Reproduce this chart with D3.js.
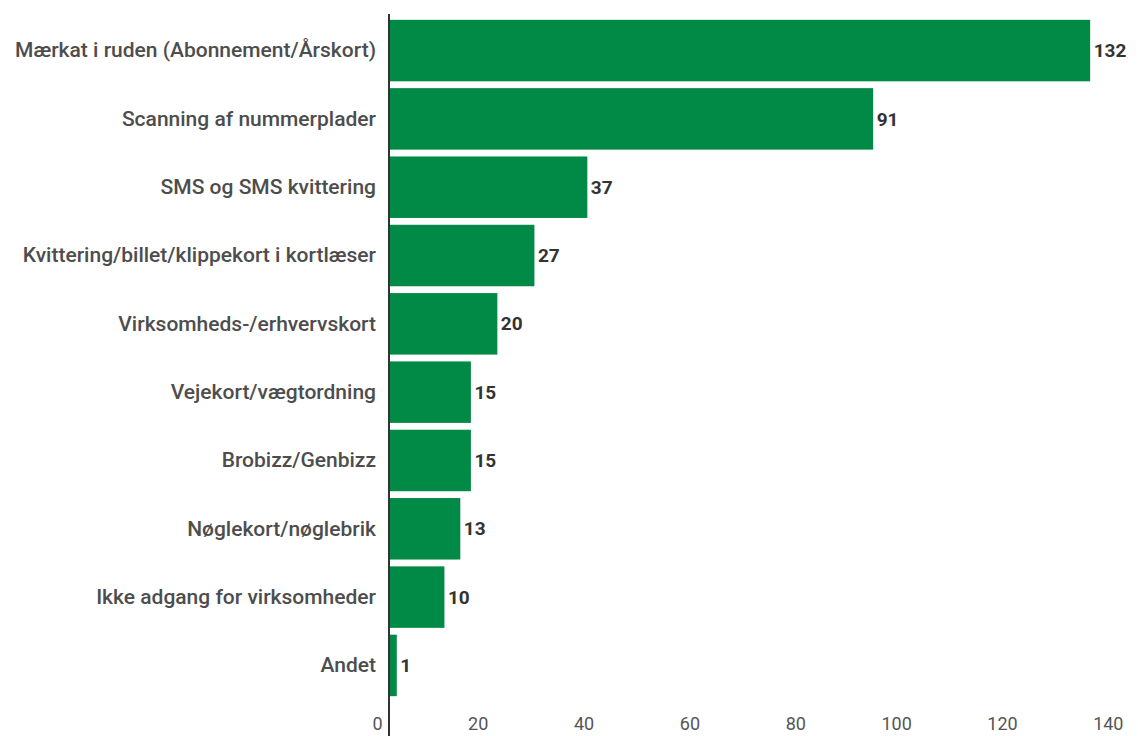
<!DOCTYPE html>
<html>
<head>
<meta charset="utf-8">
<script src="https://cdn.jsdelivr.net/npm/d3@7"></script>
<style>
  html, body { margin: 0; padding: 0; background: #fff; }
  svg { display: block; }
</style>
</head>
<body>
<svg id="chart" width="1138" height="736"></svg>
<script>
const categories = [
  "Mærkat i ruden (Abonnement/Årskort)",
  "Scanning af nummerplader",
  "SMS og SMS kvittering",
  "Kvittering/billet/klippekort i kortlæser",
  "Virksomheds-/erhvervskort",
  "Vejekort/vægtordning",
  "Brobizz/Genbizz",
  "Nøglekort/nøglebrik",
  "Ikke adgang for virksomheder",
  "Andet"
];
const values = [132, 91, 37, 27, 20, 15, 15, 13, 10, 1];
const tickValues = [0, 20, 40, 60, 80, 100, 120, 140];

const svg = d3.select("#chart");
const font = "Roboto, 'Open Sans', sans-serif";
const barColor = "#008a45";

const x = d3.scaleLinear().domain([0, 140]).range([390, 1131]);
const y = d3.scaleBand().domain(categories).range([13, 703]).paddingInner(0.1).paddingOuter(0.1);

// bars
svg.append("g").selectAll("rect")
  .data(values)
  .join("rect")
  .attr("x", x(0))
  .attr("y", (d, i) => y(categories[i]))
  .attr("width", d => x(d) - x(0) + 1.5)
  .attr("height", y.bandwidth())
  .attr("fill", barColor);

// value labels
svg.append("g").selectAll("text")
  .data(values)
  .join("text")
  .attr("x", d => x(d) + 5)
  .attr("y", (d, i) => y(categories[i]) + y.bandwidth() / 2)
  .attr("dy", "0.35em")
  .attr("font-family", font)
  .attr("font-size", 19)
  .attr("font-weight", 700)
  .attr("fill", "#333")
  .text(d => d);

// category axis
const yAxis = d3.axisLeft(y).tickSize(0).tickPadding(14);
const gy = svg.append("g")
  .attr("transform", `translate(${x(0)},0)`)
  .call(yAxis);
gy.select(".domain").remove();
gy.selectAll("text")
  .attr("font-family", font)
  .attr("font-size", 21)
  .attr("font-weight", 500)
  .attr("fill", "#4d4d4d");

// vertical axis line
svg.append("line")
  .attr("x1", x(0) - 1).attr("x2", x(0) - 1)
  .attr("y1", 14).attr("y2", 736)
  .attr("stroke", "#333")
  .attr("stroke-width", 2);

// x axis tick labels
const xAxis = d3.axisBottom(x).tickValues(tickValues).tickSize(0).tickPadding(0);
const gx = svg.append("g")
  .attr("transform", "translate(0,730)")
  .call(xAxis);
gx.select(".domain").remove();
gx.selectAll("text")
  .attr("font-family", font)
  .attr("font-size", 18)
  .attr("fill", "#555")
  .attr("text-anchor", "end")
  .attr("dx", -8)
  .attr("dy", 0);
</script>
</body>
</html>
